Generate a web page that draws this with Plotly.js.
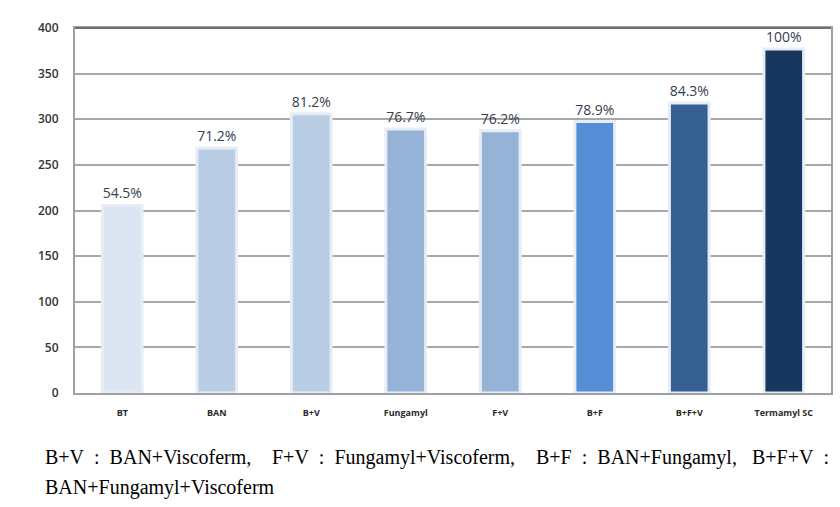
<!DOCTYPE html>
<html><head><meta charset="utf-8">
<script src="https://cdn.plot.ly/plotly-3.0.1.min.js"></script>
<style>html,body{margin:0;padding:0;background:#fff}#chart{width:840px;height:507px}</style>
</head><body><div id="chart"></div>
<script>
const categories = ["BT","BAN","B+V","Fungamyl","F+V","B+F","B+F+V","Termamyl SC"];
const values = [205.5, 268.4, 306.1, 289.2, 287.3, 297.5, 317.8, 377];
const percentLabels = ["54.5%","71.2%","81.2%","76.7%","76.2%","78.9%","84.3%","100%"];
const barColors = ["#dce6f2","#b9cde5","#b9cde5","#95b3d7","#95b3d7","#558ed5","#376092","#17375e"];
const yTicks = [0,50,100,150,200,250,300,350,400];
const S = "\u00a0\u00a0";
const captionPhrases = ["B+V" + S + ":" + S + "BAN+Viscoferm,", "F+V" + S + ":" + S + "Fungamyl+Viscoferm,", "B+F" + S + ":" + S + "BAN+Fungamyl,", "B+F+V" + S + ":"];
const captionLine2 = "BAN+Fungamyl+Viscoferm";

const trace = {
  type: "bar",
  x: categories,
  y: values,
  text: percentLabels,
  textposition: "outside",
  cliponaxis: false,
  textfont: {family: "Open Sans, sans-serif", size: 14, color: "#36404f"},
  marker: {color: barColors, line: {color: "#e8edf5", width: 3}},
  hoverinfo: "none"
};

const capFont = {family: "Liberation Serif, serif", size: 20, color: "#000"};
const px = v => (v - 75) / 756;
const phraseX = [43, 270, 534, 831];
const anns = captionPhrases.map((t, i) => ({
  xref: "paper", yref: "paper", x: px(phraseX[i]), y: -0.176,
  xanchor: i === 3 ? "right" : "left", yanchor: "middle", showarrow: false,
  text: t, font: capFont
}));
anns.push({xref: "paper", yref: "paper", x: px(43), y: -0.258, xanchor: "left", yanchor: "middle",
  showarrow: false, text: captionLine2, font: capFont});

const layout = {
  width: 840, height: 507,
  margin: {l: 75, r: 9, t: 28, b: 114},
  paper_bgcolor: "#fff", plot_bgcolor: "#fff",
  bargap: 0.58,
  showlegend: false,
  font: {family: "Open Sans, sans-serif", color: "#404040"},
  xaxis: {
    type: "category",
    showgrid: false,
    showline: true, linecolor: "#a0a0a0", linewidth: 2, mirror: true,
    ticks: "outside", ticklen: 10, tickcolor: "rgba(0,0,0,0)",
    tickfont: {family: "Open Sans, sans-serif", size: 9, color: "#2a2a2a", weight: "bold"},
    fixedrange: true
  },
  yaxis: {
    range: [0, 400],
    tickvals: yTicks,
    showgrid: true, gridcolor: "#a8a8a8", gridwidth: 2,
    zeroline: false,
    showline: true, linecolor: "#a0a0a0", linewidth: 2, mirror: true,
    ticks: "outside", ticklen: 12, tickcolor: "rgba(0,0,0,0)",
    tickfont: {family: "Open Sans, sans-serif", size: 12, color: "#333333", weight: 600},
    fixedrange: true
  },
  shapes: [
    {type: "line", xref: "paper", yref: "paper", x0: 0, x1: 1, y0: 1, y1: 1, line: {color: "#707070", width: 2}}
  ],
  annotations: anns
};

Plotly.newPlot("chart", [trace], layout, {displayModeBar: false, staticPlot: true});
</script>
</body></html>
